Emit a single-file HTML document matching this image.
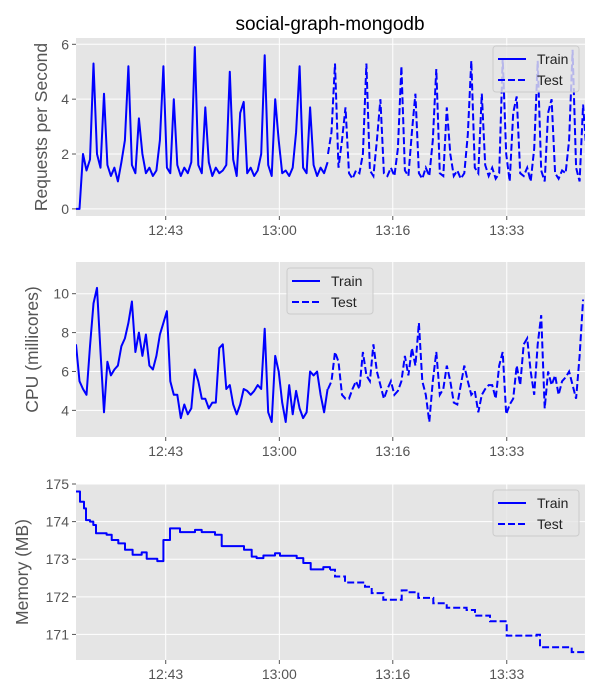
<!DOCTYPE html>
<html><head><meta charset="utf-8"><style>
html,body{margin:0;padding:0;background:#fff;}
svg{display:block;font-family:"Liberation Sans","DejaVu Sans",sans-serif;}
</style></head><body>
<svg id="chart" width="600" height="700" viewBox="0 0 600 700" xmlns="http://www.w3.org/2000/svg">
<text x="330" y="30" font-size="19" text-anchor="middle" fill="#000">social-graph-mongodb</text>
</svg>
<script>
// ---- shared x-axis data (minutes from start) ----
const xTickTimes = [13.35, 30.26, 47.14, 64.1];
const xTickLabels = ["12:43", "13:00", "13:16", "13:33"];
const sampleStep = 0.52;
const testStart = 37.5;

// ---- requests per second ----
const reqTicks = [0, 2, 4, 6];
const reqTrain = [0,0,2.0,1.4,1.8,5.3,2.0,1.5,4.2,1.6,1.2,1.5,1.0,1.7,2.5,5.2,1.6,1.3,3.3,2.0,1.3,1.5,1.2,1.4,2.5,5.2,1.5,1.3,4.0,1.6,1.2,1.5,1.3,1.7,5.9,1.6,1.3,3.7,1.7,1.2,1.5,1.3,1.4,1.6,5.0,1.8,1.2,3.5,3.9,1.3,1.5,1.2,1.4,2.0,5.6,1.6,1.2,4.0,2.5,1.3,1.4,1.2,1.5,2.8,5.2,1.5,1.3,3.7,1.6,1.2,1.5,1.3,1.7];
const reqTest = [2.0,2.8,5.3,1.5,2.5,3.7,1.3,1.1,1.4,1.3,2.0,5.3,1.4,1.2,2.5,4.0,1.3,1.2,1.5,1.2,2.2,5.2,1.4,1.2,2.8,4.2,1.3,1.1,1.5,1.2,2.5,5.1,1.3,1.2,3.7,2.0,1.2,1.4,1.1,1.3,2.7,5.4,1.5,1.3,4.2,1.6,1.2,1.5,1.1,1.3,5.5,2.0,1.0,3.5,4.1,1.3,1.2,1.5,1.0,2.2,5.4,1.4,1.0,3.5,4.0,1.3,1.1,1.4,1.3,2.5,5.8,1.5,1.0,3.8,2.0];

// ---- CPU ----
const cpuTicks = [4, 6, 8, 10];
const cpuTrain = [7.4,5.5,5.1,4.8,7.3,9.5,10.3,7.0,3.9,6.5,5.8,6.1,6.3,7.3,7.7,8.5,9.6,7.0,8.0,6.8,7.9,6.3,6.1,6.8,7.9,8.5,9.1,5.5,4.8,4.8,3.6,4.3,3.8,4.1,6.1,5.5,4.6,4.6,4.1,4.4,4.4,7.2,7.4,5.1,5.3,4.3,3.8,4.3,5.1,5.0,4.8,5.0,5.3,5.1,8.2,3.9,3.4,6.8,6.0,4.4,3.4,5.3,3.8,5.0,4.1,3.6,3.9,6.0,5.8,6.0,4.8,3.9,5.1];
const cpuTest = [5.1,5.5,7.0,6.5,4.8,4.6,4.6,5.1,5.5,5.1,7.0,5.8,5.5,7.4,6.0,5.3,4.6,5.1,5.5,4.8,5.0,5.5,6.8,5.8,7.2,6.3,8.5,5.5,4.8,3.4,5.5,7.0,4.8,5.1,6.3,5.5,4.4,4.3,5.3,6.3,5.5,4.8,5.0,3.9,4.8,5.1,5.3,5.3,4.6,6.3,7.0,3.8,4.3,4.6,6.3,5.3,7.4,7.7,6.0,4.8,7.4,8.9,4.1,6.0,5.3,5.8,4.8,5.5,5.7,6.0,5.3,4.6,6.8,9.7];

// ---- memory (step series) ----
const memTicks = [171, 172, 173, 174, 175];
const memTrainT = [0,0.6,1.19,1.49,2.08,2.58,2.98,4.56,5.31,6.3,7.29,8.43,9.77,10.52,12.1,13.0,13.99,15.48,17.71,18.7,20.68,21.68,25.0,26.14,26.88,27.88,29.61,30.36,32.84,33.83,34.92,36.8,37.8];
const memTrainV = [174.80,174.53,174.35,174.04,174.0,173.91,173.69,173.65,173.51,173.42,173.25,173.12,173.18,173.01,172.95,173.51,173.82,173.72,173.78,173.72,173.65,173.35,173.25,173.07,173.03,173.1,173.16,173.09,173.03,172.9,172.73,172.79,172.72];
const memTestT = [37.8,38.54,40.03,43.0,44.0,45.73,47.22,48.46,49.2,50.94,53.17,55.16,58.13,59.37,61.6,64.09,68.55,69.05,73.76,75.7];
const memTestV = [172.72,172.54,172.38,172.27,172.10,171.92,171.92,172.17,172.12,171.97,171.83,171.71,171.65,171.50,171.35,170.97,170.99,170.66,170.53,170.53];

const NS = "http://www.w3.org/2000/svg";
const svg = document.getElementById("chart");
const X0 = 76, X1 = 585, TMAX = (585 - 76) / 6.72;
function xs(t){ return X0 + t / TMAX * (X1 - X0); }
function mk(tag, attrs, parent){
  const e = document.createElementNS(NS, tag);
  for (const k in attrs) e.setAttribute(k, attrs[k]);
  (parent || svg).appendChild(e);
  return e;
}

function panel(cfg){
  const g = mk("g", {});
  
  
  const ys = v => cfg.y1 - (v - cfg.vmin) / (cfg.vmax - cfg.vmin) * (cfg.y1 - cfg.y0);
  const bg = mk("rect", {x: X0, y: cfg.y0, width: X1 - X0, height: cfg.y1 - cfg.y0, fill: "#e5e5e5"}, g);
  
  
  xTickTimes.forEach((t, i) => {
    const x = xs(t);
    const gl = mk("line", {x1: x, x2: x, y1: cfg.y0, y2: cfg.y1, stroke: "#fff", "stroke-width": 1}, g);
    
    
    mk("line", {x1: x, x2: x, y1: cfg.y1, y2: cfg.y1 + 4, stroke: "#555", "stroke-width": 1}, g);
    const tl = mk("text", {x: x, y: cfg.y1 + 19, "font-size": 14, fill: "#555", "text-anchor": "middle"}, g);
    tl.textContent = xTickLabels[i];
    
    
  });
  cfg.ticks.forEach(v => {
    const y = ys(v);
    const gl = mk("line", {x1: X0, x2: X1, y1: y, y2: y, stroke: "#fff", "stroke-width": 1}, g);
    
    
    mk("line", {x1: X0 - 4, x2: X0, y1: y, y2: y, stroke: "#555", "stroke-width": 1}, g);
    const tl = mk("text", {x: X0 - 7, y: y + 5, "font-size": 14, fill: "#555", "text-anchor": "end"}, g);
    tl.textContent = String(v);
    
    
  });
  const cy = (cfg.y0 + cfg.y1) / 2;
  const yl = mk("text", {x: 0, y: 0, "font-size": 17.5, fill: "#555", "text-anchor": "middle", transform: "translate(" + cfg.labelX + "," + cy + ") rotate(-90)"}, g);
  yl.textContent = cfg.ylabel;
  
  

  const clipId = cfg.name + "-clip";
  const cp = mk("clipPath", {id: clipId}, g);
  mk("rect", {x: X0, y: cfg.y0, width: X1 - X0, height: cfg.y1 - cfg.y0}, cp);

  function pathFrom(ts, vs, step){
    let d = "";
    for (let i = 0; i < ts.length; i++){
      const x = xs(ts[i]).toFixed(1), y = ys(vs[i]).toFixed(1);
      if (i === 0) d += "M" + x + " " + y;
      else if (step) d += "H" + x + "V" + y;
      else d += "L" + x + " " + y;
    }
    return d;
  }
  const tr = mk("path", {d: pathFrom(cfg.trainT, cfg.trainV, cfg.step), fill: "none", stroke: "#0000ff", "stroke-width": 2, "stroke-linejoin": "round", "clip-path": "url(#" + clipId + ")"}, g);
  
  
  const te = mk("path", {d: pathFrom(cfg.testT, cfg.testV, cfg.step), fill: "none", stroke: "#0000ff", "stroke-width": 2, "stroke-dasharray": "7,3", "clip-path": "url(#" + clipId + ")"}, g);
  
  

  const L = cfg.legend;
  const lg = mk("g", {}, g);
  
  
  mk("rect", {x: L.x, y: L.y, width: 86, height: 46, rx: 3, fill: "#e5e5e5", "fill-opacity": 0.8, stroke: "#ccc", "stroke-width": 1}, lg);
  mk("line", {x1: L.x + 5, x2: L.x + 33, y1: L.y + 13, y2: L.y + 13, stroke: "#0000ff", "stroke-width": 2}, lg);
  mk("line", {x1: L.x + 5, x2: L.x + 33, y1: L.y + 34, y2: L.y + 34, stroke: "#0000ff", "stroke-width": 2, "stroke-dasharray": "7,3"}, lg);
  const t1 = mk("text", {x: L.x + 44, y: L.y + 18, "font-size": 14, fill: "#222"}, lg);
  t1.textContent = "Train";
  
  
  const t2 = mk("text", {x: L.x + 44, y: L.y + 39, "font-size": 14, fill: "#222"}, lg);
  t2.textContent = "Test";
  
  
}

const reqTrainT = reqTrain.map((_, i) => i * sampleStep);
const reqTestT = reqTest.map((_, i) => testStart + i * sampleStep);
const cpuTrainT = cpuTrain.map((_, i) => i * sampleStep);
const cpuTestT = cpuTest.map((_, i) => testStart + i * sampleStep);

panel({name: "requests", y0: 38, y1: 216, vmin: -0.26, vmax: 6.23, ticks: reqTicks, ylabel: "Requests per Second", labelX: 47,
  trainT: reqTrainT, trainV: reqTrain, testT: reqTestT, testV: reqTest, step: false, legend: {x: 493, y: 46}});
panel({name: "cpu", y0: 262, y1: 437, vmin: 2.63, vmax: 11.63, ticks: cpuTicks, ylabel: "CPU (millicores)", labelX: 38,
  trainT: cpuTrainT, trainV: cpuTrain, testT: cpuTestT, testV: cpuTest, step: false, legend: {x: 287, y: 268}});
panel({name: "memory", y0: 484, y1: 660, vmin: 170.32, vmax: 175.0, ticks: memTicks, ylabel: "Memory (MB)", labelX: 28,
  trainT: memTrainT, trainV: memTrainV, testT: memTestT, testV: memTestV, step: true, legend: {x: 493, y: 490}});
</script>
</body></html>
